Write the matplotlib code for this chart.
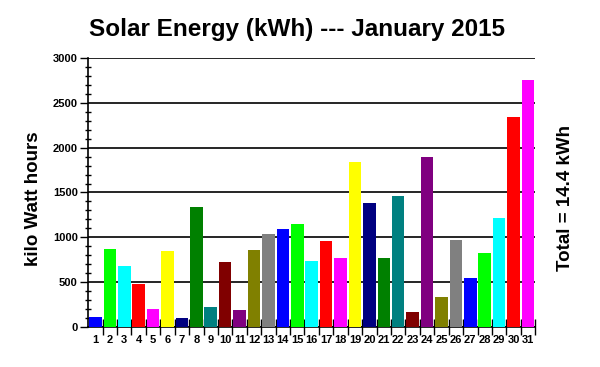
import numpy as np
import matplotlib.pyplot as plt
from matplotlib.ticker import MultipleLocator, FixedLocator


#daily values
days = list(range(1, 32))
energy = [115, 870, 680, 480, 200, 845, 105, 1335, 225, 725, 185, 860, 1035, 1090, 1145, 740,
          960, 770, 1845, 1380, 765, 1460, 170, 1900, 335, 970, 545, 820, 1215, 2340, 2750]

#colours repeat every 13 bars
palette = ["#0000FF", "#00FF00", "#00FFFF", "#FF0000", "#FF00FF", "#FFFF00", "#000080",
           "#008000", "#008080", "#800000", "#800080", "#808000", "#808080"]
bar_colors = [palette[i % len(palette)] for i in range(len(days))]

title = "Solar Energy (kWh) --- January 2015"
y_label = "kilo Watt hours"
total_label = "Total = 14.4 kWh"

plt.rcParams["font.family"] = ["Liberation Sans", "DejaVu Sans"]

fig = plt.figure(figsize=(6, 3.67), dpi=100)
ax = fig.add_axes([0.147, 0.109, 0.745, 0.733])

ax.bar(days, energy, width=0.87, color=bar_colors, edgecolor="none", zorder=3)

ax.set_xlim(0.5, 31.5)
ax.set_ylim(0, 3000)

#horizontal grid lines behind the bars
ax.yaxis.set_major_locator(MultipleLocator(500))
ax.yaxis.set_minor_locator(MultipleLocator(100))
ax.grid(axis="y", which="major", color="black", linewidth=1.2, zorder=0)
ax.set_axisbelow(True)

ax.set_xticks(days)
ax.set_xticklabels([str(d) for d in days], fontsize=8, fontweight="bold")
ax.xaxis.set_minor_locator(FixedLocator(np.arange(1.5, 32, 1)))
ax.tick_params(axis="x", which="major", length=0, pad=6)
ax.tick_params(axis="x", which="minor", direction="inout", length=11, width=1)
ax.tick_params(axis="y", which="major", direction="out", length=6, width=1, labelsize=8, pad=1.5)
ax.tick_params(axis="y", which="minor", direction="inout", length=5, width=1)
for lab in ax.get_yticklabels():
    lab.set_fontweight("bold")

ax.spines["top"].set_visible(False)
ax.spines["right"].set_visible(False)
ax.spines["left"].set_linewidth(1.2)
ax.spines["bottom"].set_linewidth(1.2)

fig.text(0.495, 0.92, title, ha="center", va="center", fontsize=17.5, fontweight="bold")
fig.text(0.055, 0.458, y_label, ha="center", va="center", rotation=90, fontsize=13.5, fontweight="bold")
fig.text(0.942, 0.46, total_label, ha="center", va="center", rotation=90, fontsize=13.5, fontweight="bold")

fig.savefig("out.png", dpi=100)
